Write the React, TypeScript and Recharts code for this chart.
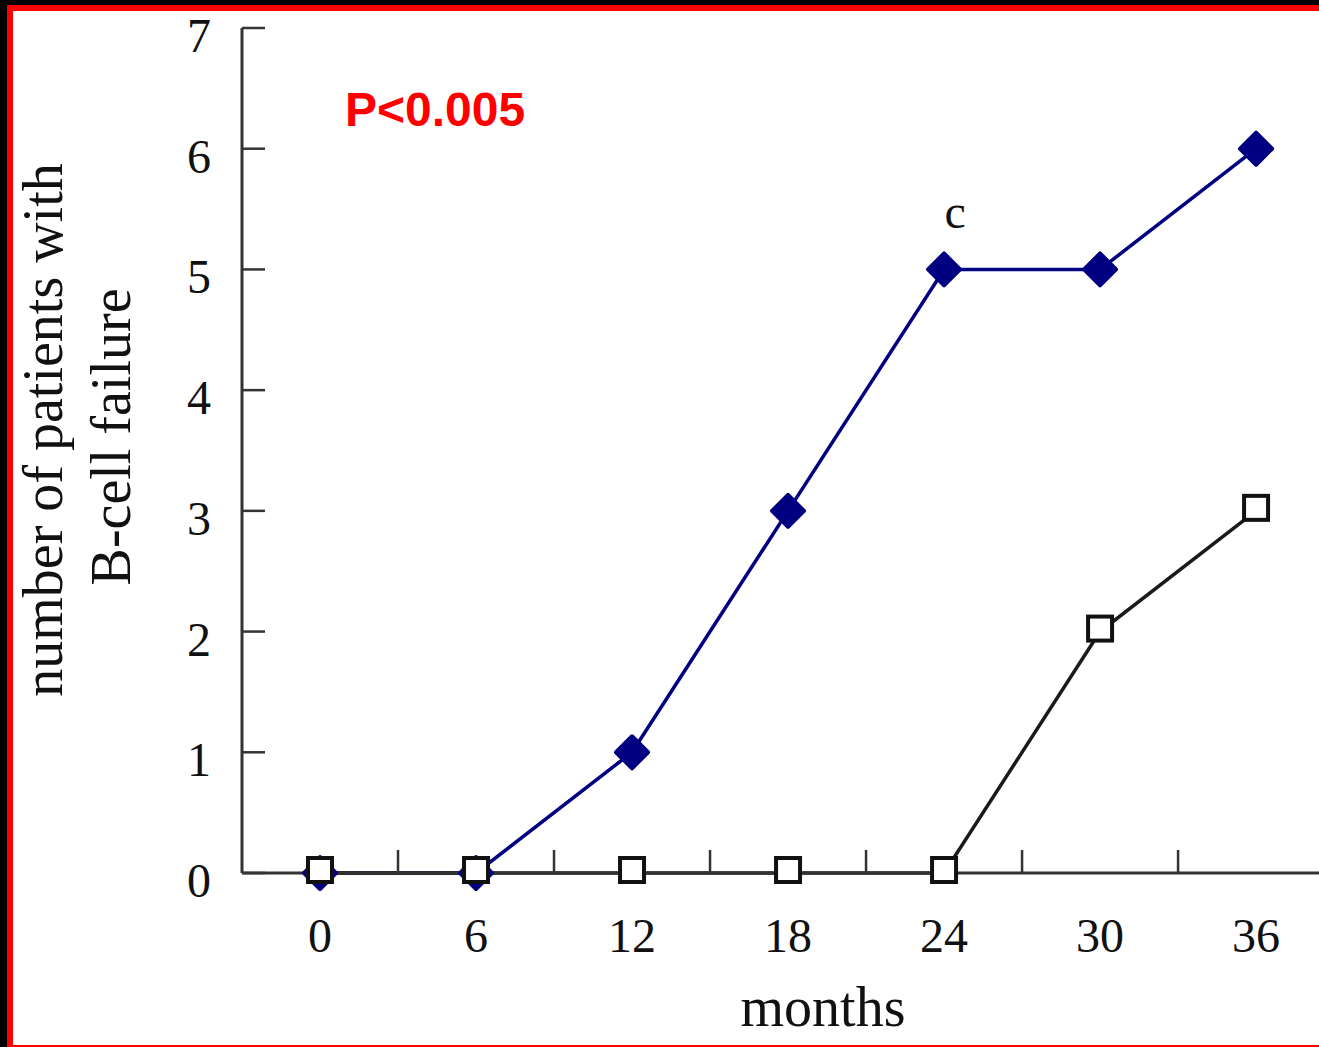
import React from 'react';
import { LineChart, Line, XAxis, YAxis } from 'recharts';

const months = [0, 6, 12, 18, 24, 30, 36];
const groupFailing = [0, 0, 1, 3, 5, 5, 6];
const groupStable = [0, 0, 0, 0, 0, 2, 3];
const xTicks = [0, 3, 6, 9, 12, 15, 18, 21, 24, 27, 30, 33, 36];
const yTicks = [0, 1, 2, 3, 4, 5, 6, 7];

const data = months.map((m, i) => ({
  month: m,
  failing: groupFailing[i],
  stable: groupStable[i],
}));

const SERIF = '"Liberation Serif", "Times New Roman", serif';
const AXIS = '#333333';
const NAVY = '#000080';

function XTick({ x, y, payload }: any) {
  const v = payload.value;
  // labelled every 6 months, short inward tick half way between
  if (v % 6 !== 0) {
    return <line x1={x} y1={y} x2={x} y2={y - 23} stroke={AXIS} strokeWidth={2.5} />;
  }
  return (
    <text x={x} y={y + 79} textAnchor="middle" fontFamily={SERIF} fontSize={48} fill="#111">
      {v}
    </text>
  );
}

function YTick({ x, y, payload }: any) {
  return (
    <g>
      <line x1={x} y1={y} x2={x + 23} y2={y} stroke={AXIS} strokeWidth={2.5} />
      <text x={x - 31} y={y + 7} dy="0.355em" textAnchor="end" fontFamily={SERIF} fontSize={48} fill="#111">
        {payload.value}
      </text>
    </g>
  );
}

function Diamond({ cx, cy, index }: any) {
  const r = 16;
  return (
    <polygon
      key={`d-${index}`}
      points={`${cx},${cy - r} ${cx + r},${cy} ${cx},${cy + r} ${cx - r},${cy}`}
      fill={NAVY}
      stroke={NAVY}
      strokeWidth={4}
      strokeLinejoin="round"
    />
  );
}

function Square({ cx, cy, index }: any) {
  const s = 12;
  return (
    <rect
      key={`s-${index}`}
      x={cx - s}
      y={cy - s - 3}
      width={s * 2}
      height={s * 2}
      fill="#fff"
      stroke="#111"
      strokeWidth={4}
    />
  );
}

function PointNote({ x, y, index }: any) {
  if (index !== 4) return null;
  return (
    <text x={x + 11} y={y - 41} textAnchor="middle" fontFamily={SERIF} fontSize={48} fill="#111">
      c
    </text>
  );
}

function YTitle() {
  return (
    <g>
      <text
        x={62} y={430} transform="rotate(-90, 62, 430)"
        textAnchor="middle" fontFamily={SERIF} fontSize={56} fill="#111"
      >
        number of patients with
      </text>
      <text
        x={130} y={437} transform="rotate(-90, 130, 437)"
        textAnchor="middle" fontFamily={SERIF} fontSize={56} fill="#111"
      >
        B-cell failure
      </text>
      <text
        x={345} y={126}
        fontFamily='"Liberation Sans", Arial, sans-serif' fontWeight="bold" fontSize={48} fill="#ff0000"
      >
        P&lt;0.005
      </text>
    </g>
  );
}

function XTitle() {
  return (
    <text x={823} y={1026} textAnchor="middle" fontFamily={SERIF} fontSize={56} fill="#111">
      months
    </text>
  );
}

export default function App() {
  return (
    <div style={{ position: 'absolute', left: 0, top: 0, width: 1319, height: 1047, background: '#000', overflow: 'hidden' }}>
      <div style={{ position: 'absolute', left: 7, top: 5, width: 1320, height: 1042, background: '#ff0000' }} />
      <div style={{ position: 'absolute', left: 13, top: 11, width: 1320, height: 1034, background: '#fff' }} />
      <div style={{ position: 'absolute', left: 0, top: 0 }}>
        <LineChart width={1319} height={1047} data={data} margin={{ top: 28, right: 0, bottom: 114, left: 182 }}>
          <XAxis
            dataKey="month"
            type="number"
            domain={[-3, 38.42]}
            allowDataOverflow
            ticks={xTicks}
            interval={0}
            tickLine={false}
            tickSize={0}
            tickMargin={0}
            tick={<XTick />}
            axisLine={{ stroke: AXIS, strokeWidth: 3 }}
            height={60}
            label={{ content: () => <XTitle /> }}
          />
          <YAxis
            type="number"
            domain={[0, 7]}
            ticks={yTicks}
            interval={0}
            tickLine={false}
            tickSize={0}
            tickMargin={0}
            tick={<YTick />}
            axisLine={{ stroke: AXIS, strokeWidth: 3 }}
            width={60}
            label={{ content: () => <YTitle /> }}
          />
          <Line
            type="linear"
            dataKey="failing"
            stroke={NAVY}
            strokeWidth={3.5}
            dot={(p: any) => <Diamond key={`d-${p.index}`} {...p} />}
            activeDot={false}
            label={<PointNote />}
            isAnimationActive={false}
          />
          <Line
            type="linear"
            dataKey="stable"
            stroke="#1a1a1a"
            strokeWidth={3.5}
            dot={(p: any) => <Square key={`s-${p.index}`} {...p} />}
            activeDot={false}
            isAnimationActive={false}
          />
        </LineChart>
      </div>
    </div>
  );
}
